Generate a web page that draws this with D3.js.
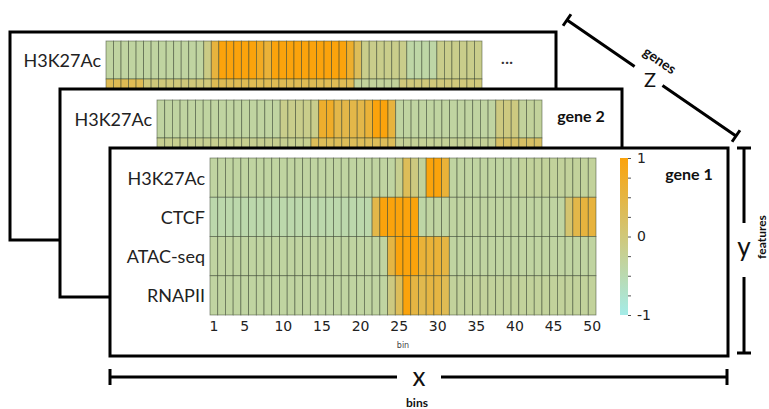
<!DOCTYPE html>
<html>
<head>
<meta charset="utf-8">
<script src="https://cdn.jsdelivr.net/npm/d3@7"></script>
<style>
body { margin: 0; background: #fff; }
svg { display: block; }
</style>
</head>
<body>
<script>
const WIDTH = 769
const HEIGHT = 409

// categories
const bins = d3.range(1, 51).map(String)
const features = ["H3K27Ac", "CTCF", "ATAC-seq", "RNAPII"]
const binTicks = ["1", "5", "10", "15", "20", "25", "30", "35", "40", "45", "50"]
const colorTicks = [-1, -0.75, -0.5, -0.25, 0, 0.25, 0.5, 0.75, 1]

// gene 1 (front panel), one value per bin
const gene1H3K27Ac = [-0.35, -0.35, -0.35, -0.35, -0.35, -0.35, -0.35, -0.35, -0.35, -0.35,
    -0.35, -0.35, -0.35, -0.35, -0.35, -0.35, -0.35, -0.35, -0.35, -0.35,
    -0.35, -0.35, -0.35, -0.35, -0.2, 0.3, -0.05, -0.3, 1, 1,
    0.6, -0.35, -0.35, -0.35, -0.35, -0.35, -0.35, -0.35, -0.35, -0.35,
    -0.3, -0.3, -0.3, -0.3, -0.3, -0.3, -0.3, -0.3, -0.3, -0.3]
const gene1CTCF = [-0.45, -0.45, -0.45, -0.45, -0.45, -0.45, -0.45, -0.45, -0.45, -0.45,
    -0.45, -0.45, -0.45, -0.45, -0.45, -0.45, -0.45, -0.45, -0.45, -0.45,
    -0.45, 0.45, 1, 1, 1, 1, 1, -0.4, -0.35, -0.35,
    -0.35, -0.35, -0.35, -0.35, -0.35, -0.35, -0.35, -0.35, -0.35, -0.35,
    -0.35, -0.35, -0.35, -0.35, -0.35, -0.35, 0.1, 0.45, 0.55, 0.55]
const gene1ATAC = [-0.35, -0.35, -0.35, -0.35, -0.35, -0.35, -0.35, -0.35, -0.35, -0.35,
    -0.35, -0.35, -0.35, -0.35, -0.35, -0.35, -0.35, -0.35, -0.35, -0.35,
    -0.35, -0.35, -0.35, 0.5, 1, 1, 1, 0.6, 0.6, 0.6,
    0.5, -0.35, -0.35, -0.35, -0.35, -0.35, -0.35, -0.35, -0.35, -0.35,
    -0.35, -0.35, -0.35, -0.35, -0.35, -0.35, -0.35, -0.35, -0.35, -0.35]
const gene1RNAPII = [-0.35, -0.35, -0.35, -0.35, -0.35, -0.35, -0.35, -0.35, -0.35, -0.35,
    -0.35, -0.35, -0.35, -0.35, -0.35, -0.35, -0.35, -0.35, -0.35, -0.35,
    -0.35, -0.35, -0.35, -0.05, 0.3, 1, 0.5, 0.4, 0.5, 0.5,
    0.35, -0.3, -0.3, -0.3, -0.3, -0.3, -0.3, -0.3, -0.3, -0.3,
    -0.3, -0.3, -0.3, -0.3, -0.3, -0.3, -0.3, -0.3, -0.3, -0.3]

// gene 2 (middle panel), only the top rows show
const gene2H3K27Ac = [-0.35, -0.35, -0.35, -0.35, -0.35, -0.35, -0.35, -0.35, -0.35, -0.35,
    -0.35, -0.35, -0.35, -0.35, -0.35, -0.35, -0.15, -0.15, -0.15, -0.15,
    -0.15, 0.7, 0.75, 0.45, 0.45, 0.45, 0.45, 0.6, 1, 1,
    0.55, -0.35, -0.35, -0.35, -0.35, -0.35, -0.35, -0.35, -0.35, -0.35,
    -0.35, -0.35, -0.35, -0.35, -0.05, -0.05, -0.05, -0.3, -0.3, -0.3]
const gene2CTCF = [-0.2, -0.2, -0.2, -0.2, -0.2, -0.2, -0.2, -0.2, -0.2, -0.2,
    -0.2, -0.2, -0.2, -0.2, -0.2, -0.2, -0.2, -0.2, -0.2, -0.2,
    0.3, 0.3, 0.3, 0.3, 0.3, 0.3, 0.3, 0.3, 0.3, 0.3,
    0.3, -0.25, -0.25, -0.25, -0.25, -0.25, -0.25, -0.25, -0.25, -0.25,
    -0.25, -0.25, -0.25, -0.25, 0.2, 0.2, 0.2, 0.2, 0.2, 0.2]

// back panel (more genes)
const geneNH3K27Ac = [-0.35, -0.35, -0.35, -0.35, -0.35, -0.35, -0.35, -0.35, -0.35, -0.35,
    -0.35, -0.35, -0.35, -0.1, 0.55, 1, 1, 1, 1, 1,
    0.8, 0.6, 1, 1, 1, 1, 1, 1, 1, 1,
    1, 1, 0.7, 0.3, -0.15, -0.15, -0.15, -0.15, -0.15, -0.15,
    -0.4, -0.4, -0.4, -0.4, -0.15, -0.15, -0.15, -0.15, -0.15, -0.15]
const geneNCTCF = [0.35, 0.35, 0.35, 0.35, 0.35, 0.0, 0.0, 0.0, 0.0, 0.0,
    0.0, 0.0, 0.0, 0.0, 0.35, 0.35, 0.35, 0.35, 0.35, 0.35,
    0.35, 0.35, 0.35, 0.35, 0.35, 0.35, 0.35, 0.35, 0.35, 0.35,
    0.35, 0.35, 0.35, -0.3, -0.3, -0.3, -0.3, -0.3, -0.3, 0.0,
    0.0, 0.0, 0.0, 0.0, 0.0, 0.0, 0.0, 0.0, 0.0, 0.0]

const FONT = "Lato, 'Open Sans', sans-serif"
const TICKFONT = "'DejaVu Sans', sans-serif"

const svg = d3
    .select("body")
    .append("svg")
    .attr("width", WIDTH)
    .attr("height", HEIGHT)

const color = d3.scaleLinear()
    .domain([-1, 1])
    .range(["#a4ece8", "#fba30c"])

const panels = [
    {
        box: [10, 32, 546, 208],
        heat: [106, 482, 41, 38],
        rows: [geneNH3K27Ac, geneNCTCF],
        labelX: 101
    },
    {
        box: [60, 89, 562, 208],
        heat: [157, 542, 100, 38],
        rows: [gene2H3K27Ac, gene2CTCF],
        labelX: 152,
        name: "gene 2",
        nameX: 581
    },
    {
        box: [110, 148, 618, 208],
        heat: [210, 596, 158, 39.25],
        rows: [gene1H3K27Ac, gene1CTCF, gene1ATAC, gene1RNAPII],
        labelX: 205,
        name: "gene 1",
        nameX: 689,
        front: true
    }
]

panels.forEach(p => {
    const g = svg.append("g")
    const [bx, by, bw, bh] = p.box
    const [hx0, hx1, hy0, rowH] = p.heat
    const rowNames = features.slice(0, p.rows.length)

    g.append("rect")
        .attr("x", bx)
        .attr("y", by)
        .attr("width", bw)
        .attr("height", bh)
        .attr("fill", "white")
        .attr("stroke", "black")
        .attr("stroke-width", 3)

    const x = d3.scaleBand().domain(bins).range([hx0, hx1])
    const y = d3.scaleBand().domain(rowNames).range([hy0, hy0 + rowH * p.rows.length])

    p.rows.forEach((vals, r) => {
        g.selectAll(null)
            .data(vals)
            .enter()
            .append("rect")
            .attr("x", (_, i) => x(bins[i]))
            .attr("y", y(rowNames[r]))
            .attr("width", x.bandwidth())
            .attr("height", y.bandwidth())
            .attr("fill", d => color(d))
            .attr("stroke", "#33402c")
            .attr("stroke-opacity", 0.6)
            .attr("stroke-width", 0.8)
    })

    // back panels only show the first row label, the rest is hidden
    const shown = p.front ? rowNames : rowNames.slice(0, 1)
    g.selectAll(null)
        .data(shown)
        .enter()
        .append("text")
        .attr("x", p.labelX)
        .attr("y", d => y(d) + y.bandwidth() / 2)
        .attr("text-anchor", "end")
        .attr("dominant-baseline", "central")
        .attr("font-family", FONT)
        .attr("font-size", 18)
        .attr("fill", "#222")
        .text(d => d)

    if (p.name) {
        g.append("text")
            .attr("x", p.nameX)
            .attr("y", hy0 + 15)
            .attr("text-anchor", "middle")
            .attr("dominant-baseline", "central")
            .attr("font-family", FONT)
            .attr("font-weight", "bold")
            .attr("font-size", 16)
            .attr("fill", "#111")
            .text(p.name)
    }

    if (!p.name) {
        g.append("text")
            .attr("x", 507)
            .attr("y", hy0 + 19)
            .attr("text-anchor", "middle")
            .attr("dominant-baseline", "central")
            .attr("font-family", FONT)
            .attr("font-size", 16)
            .attr("fill", "#333")
            .text("···")
    }

    if (p.front) {
        const xAxis = d3.axisBottom(x)
            .tickValues(binTicks)
            .tickSize(0)
            .tickPadding(6)
        const ax = g.append("g")
            .attr("transform", `translate(0,${hy0 + rowH * p.rows.length})`)
            .call(xAxis)
        ax.select(".domain").remove()
        ax.selectAll("text")
            .attr("font-family", TICKFONT)
            .attr("font-size", 14)
            .attr("fill", "#222")

        g.append("text")
            .attr("x", (hx0 + hx1) / 2)
            .attr("y", 345)
            .attr("text-anchor", "middle")
            .attr("dominant-baseline", "central")
            .attr("font-family", TICKFONT)
            .attr("font-size", 8)
            .attr("fill", "#444")
            .text("bin")

        // colour bar
        const cTop = hy0
        const cBot = hy0 + rowH * p.rows.length
        const cy = d3.scaleLinear().domain([-1, 1]).range([cBot, cTop])
        const grad = svg.append("defs")
            .append("linearGradient")
            .attr("id", "cbar")
            .attr("x1", 0).attr("x2", 0)
            .attr("y1", 1).attr("y2", 0)
        grad.selectAll("stop")
            .data(colorTicks)
            .enter()
            .append("stop")
            .attr("offset", d => (d + 1) / 2)
            .attr("stop-color", d => color(d))
        g.append("rect")
            .attr("x", 620)
            .attr("y", cTop)
            .attr("width", 8)
            .attr("height", cBot - cTop)
            .attr("fill", "url(#cbar)")
        const cAxis = d3.axisRight(cy)
            .tickValues(colorTicks)
            .tickSize(3)
            .tickPadding(6)
            .tickFormat(d => Number.isInteger(d) ? d3.format("d")(d).replace("−", "-") : "")
        const cax = g.append("g")
            .attr("transform", "translate(628,0)")
            .call(cAxis)
        cax.select(".domain").remove()
        cax.selectAll("line").attr("stroke", "#555")
        cax.selectAll("text")
            .attr("font-family", TICKFONT)
            .attr("font-size", 14)
            .attr("fill", "#222")
    }
})

// dimension brackets
const brackets = svg.append("g")
    .attr("stroke", "black")
    .attr("stroke-width", 3)
    .attr("fill", "none")

function bracket(a, b, gapFrom, gapTo, cap) {
    const dx = b[0] - a[0], dy = b[1] - a[1]
    const len = Math.hypot(dx, dy)
    const ux = dx / len, uy = dy / len
    const nx = -uy * cap, ny = ux * cap
    const at = t => [a[0] + dx * t, a[1] + dy * t]
    const p1 = at(gapFrom), p2 = at(gapTo)
    const path = d3.path()
    path.moveTo(a[0], a[1]); path.lineTo(p1[0], p1[1])
    path.moveTo(p2[0], p2[1]); path.lineTo(b[0], b[1])
    path.moveTo(a[0] - nx, a[1] - ny); path.lineTo(a[0] + nx, a[1] + ny)
    path.moveTo(b[0] - nx, b[1] - ny); path.lineTo(b[0] + nx, b[1] + ny)
    brackets.append("path").attr("d", path.toString())
}

bracket([110, 377], [727, 377], (397 - 110) / 617, (441 - 110) / 617, 8)
bracket([744, 148], [744, 353], (223 - 148) / 205, (277 - 148) / 205, 7)
bracket([567, 20], [736, 136], 0.4, 0.565, 7)

const dimLabels = [
    { t: "x", x: 419, y: 376, size: 26, bold: false, rot: 0 },
    { t: "y", x: 744, y: 246, size: 26, bold: false, rot: 0 },
    { t: "Z", x: 650, y: 79, size: 20, bold: false, rot: 0 },
    { t: "bins", x: 417, y: 402, size: 12, bold: true, rot: 0 },
    { t: "features", x: 761, y: 237, size: 12, bold: true, rot: -90 },
    { t: "genes", x: 660, y: 60, size: 14, bold: true, rot: 34.5 }
]

svg.selectAll(".dim")
    .data(dimLabels)
    .enter()
    .append("text")
    .attr("class", "dim")
    .attr("transform", d => `translate(${d.x},${d.y}) rotate(${d.rot})`)
    .attr("text-anchor", "middle")
    .attr("dominant-baseline", "central")
    .attr("font-family", FONT)
    .attr("font-weight", d => d.bold ? "bold" : "normal")
    .attr("font-size", d => d.size)
    .attr("fill", "#111")
    .text(d => d.t)
</script>
</body>
</html>
